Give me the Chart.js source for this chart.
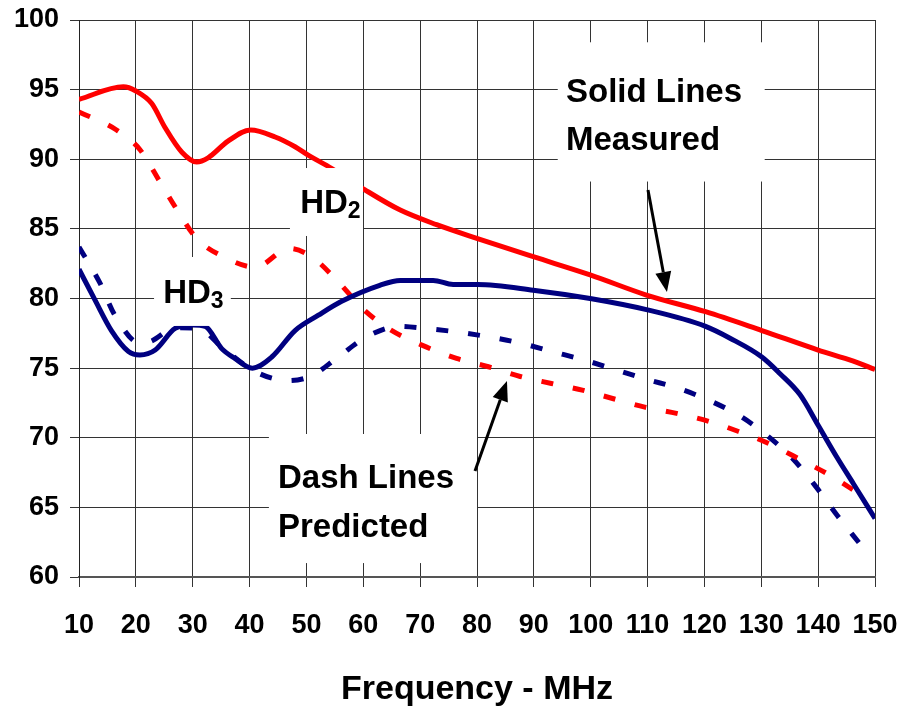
<!DOCTYPE html>
<html>
<head>
<meta charset="utf-8">
<script src="https://cdn.jsdelivr.net/npm/chart.js@4.4.1/dist/chart.umd.min.js"></script>
<style>
  html, body { margin: 0; padding: 0; background: #fff; }
  #wrap { width: 910px; height: 708px; }
</style>
</head>
<body>
<div id="wrap"><canvas id="chart" width="910" height="708"></canvas></div>
<script>
// --- Data (MHz / dB) ---
const hd2MeasFreq = [10, 17.8, 20, 22.8, 25.1, 28.1, 30.7, 32.7, 36.2, 40.2, 44.5, 48, 50.3, 54.4, 60.3, 66.5, 72.9, 80.1, 89.9, 99.9, 109.8, 120.2, 130.1, 140, 146.2, 150];
const hd2Meas     = [94.3, 95.2, 94.9, 94.0, 92.3, 90.5, 89.8, 90.1, 91.3, 92.1, 91.6, 90.9, 90.3, 89.35, 87.8, 86.35, 85.3, 84.3, 83.0, 81.7, 80.25, 79.05, 77.7, 76.3, 75.5, 74.9];

const hd3MeasFreq = [10, 12.8, 15.7, 18.7, 20.7, 23.4, 26.9, 30, 32.2, 35.1, 37.4, 40.5, 43.9, 48, 52.1, 56.2, 62.9, 66.5, 72.3, 75.8, 80.1, 89.9, 99.9, 109.8, 120.2, 124.5, 130.1, 133.3, 136.8, 140, 143.3, 146.2, 150];
const hd3Meas     = [82.1, 79.9, 77.7, 76.2, 75.95, 76.3, 77.85, 78.1, 78.0, 76.4, 75.7, 75.0, 75.8, 77.7, 78.8, 79.8, 80.95, 81.3, 81.3, 81.0, 81.0, 80.6, 80.0, 79.2, 78.0, 77.15, 75.8, 74.6, 73.1, 70.9, 68.6, 66.7, 64.2];

const hd2PredFreq = [10, 16.6, 20.7, 24.2, 27.5, 30.7, 35.4, 41, 47, 50.9, 55.6, 59.7, 64.4, 70.3, 76.4, 82, 87.6, 93.1, 98.7, 104, 109.5, 115.1, 121, 126, 131.5, 136.8, 142.1, 147.5];
const hd2Pred     = [93.4, 92.1, 90.7, 88.4, 86.2, 84.3, 83.0, 82.25, 83.6, 83.0, 81.2, 79.35, 77.85, 76.65, 75.7, 75.1, 74.4, 73.9, 73.4, 72.8, 72.2, 71.75, 71.15, 70.45, 69.55, 68.45, 67.3, 65.9];

const hd3PredFreq = [10, 13.7, 16.3, 20.7, 22.5, 27, 31, 35.4, 41, 46.8, 50.9, 55.6, 60.6, 66.2, 70.9, 76.4, 82, 87.6, 93.1, 98.7, 104.3, 109.8, 115.4, 121, 126.3, 130.9, 135.3, 139.4, 143.3, 147.3];
const hd3Pred     = [83.7, 81.1, 78.8, 76.8, 76.9, 77.9, 77.85, 76.4, 74.75, 74.1, 74.45, 75.8, 77.25, 78.0, 77.85, 77.6, 77.25, 76.8, 76.2, 75.6, 74.9, 74.2, 73.55, 72.65, 71.55, 70.2, 68.6, 66.6, 64.45, 62.4];

const xTicks = [10, 20, 30, 40, 50, 60, 70, 80, 90, 100, 110, 120, 130, 140, 150];
const yTicks = [60, 65, 70, 75, 80, 85, 90, 95, 100];

const RED = '#ff0000';
const NAVY = '#000080';
const FONT = '"Liberation Sans", Arial, Helvetica, sans-serif';

const toPoints = (xs, ys) => xs.map((x, i) => ({ x: x, y: ys[i] }));

// --- Text boxes and arrows, placed in data units ---
const notes = [
    { box: [94.2, 130.6, 98.4, 88.4], text: [['Solid Lines', 95.65, 94.13], ['Measured', 95.65, 90.66]] },
    { box: [47.1, 59.95, 89.37, 84.49], text: [['HD', 48.9, 86.14, '2']] },
    { box: [23.2, 36.7, 82.98, 78.03], text: [['HD', 24.8, 79.68, '3']] },
    { box: [43.4, 80.0, 70.27, 61.0], text: [['Dash Lines', 45.0, 66.39], ['Predicted', 45.0, 62.87]] }
];
const arrows = [
    [110.07, 87.79, 113.41, 80.47],
    [79.65, 67.61, 85.27, 74.08]
];

const notesPlugin = {
    id: 'notes',
    afterDatasetsDraw(chart) {
        const ctx = chart.ctx;
        const sx = chart.scales.x, sy = chart.scales.y;
        const px = v => sx.getPixelForValue(v);
        const py = v => sy.getPixelForValue(v);
        ctx.save();
        notes.forEach(n => {
            const [x0, x1, y0, y1] = n.box;
            ctx.fillStyle = '#fff';
            ctx.fillRect(px(x0), py(y0), px(x1) - px(x0), py(y1) - py(y0));
            n.text.forEach(t => {
                ctx.fillStyle = '#000';
                ctx.textBaseline = 'alphabetic';
                ctx.textAlign = 'left';
                ctx.font = 'bold 33px ' + FONT;
                const tx = px(t[1]), ty = py(t[2]);
                ctx.fillText(t[0], tx, ty);
                if (t[3]) {
                    const w = ctx.measureText(t[0]).width;
                    ctx.font = 'bold 23px ' + FONT;
                    ctx.fillText(t[3], tx + w, ty + 5);
                }
            });
        });
        // arrows
        ctx.strokeStyle = '#000';
        ctx.fillStyle = '#000';
        ctx.lineWidth = 3;
        arrows.forEach(a => {
            const x0 = px(a[0]), y0 = py(a[1]), x1 = px(a[2]), y1 = py(a[3]);
            const ang = Math.atan2(y1 - y0, x1 - x0);
            const head = 20, half = 8;
            const bx = x1 - head * Math.cos(ang), by = y1 - head * Math.sin(ang);
            ctx.beginPath();
            ctx.moveTo(x0, y0);
            ctx.lineTo(bx, by);
            ctx.stroke();
            ctx.beginPath();
            ctx.moveTo(x1, y1);
            ctx.lineTo(bx + half * Math.sin(ang), by - half * Math.cos(ang));
            ctx.lineTo(bx - half * Math.sin(ang), by + half * Math.cos(ang));
            ctx.closePath();
            ctx.fill();
        });
        ctx.restore();
    }
};

const lineStyle = {
    borderWidth: 5,
    pointRadius: 0,
    fill: false,
    cubicInterpolationMode: 'monotone',
    borderCapStyle: 'butt'
};

new Chart(document.getElementById('chart'), {
    type: 'line',
    data: {
        datasets: [
            Object.assign({ label: 'HD2 measured', data: toPoints(hd2MeasFreq, hd2Meas), borderColor: RED }, lineStyle),
            Object.assign({ label: 'HD3 measured', data: toPoints(hd3MeasFreq, hd3Meas), borderColor: NAVY }, lineStyle),
            Object.assign({ label: 'HD2 predicted', data: toPoints(hd2PredFreq, hd2Pred), borderColor: RED, borderDash: [12, 20] }, lineStyle),
            Object.assign({ label: 'HD3 predicted', data: toPoints(hd3PredFreq, hd3Pred), borderColor: NAVY, borderDash: [12, 20] }, lineStyle)
        ]
    },
    options: {
        responsive: false,
        animation: false,
        layout: { padding: { top: 20, right: 35, left: 0, bottom: 0 } },
        plugins: {
            legend: { display: false },
            tooltip: { enabled: false }
        },
        scales: {
            x: {
                type: 'linear',
                min: 10,
                max: 150,
                afterBuildTicks: s => { s.ticks = xTicks.map(v => ({ value: v })); },
                afterFit: s => { s.height = 131; s.paddingLeft = 0; s.paddingRight = 0; },
                grid: { color: '#333', lineWidth: 1, tickLength: 10 },
                border: { color: '#555', width: 2 },
                ticks: {
                    color: '#000',
                    padding: 22,
                    maxRotation: 0,
                    autoSkip: false,
                    font: { family: FONT, size: 27, weight: 'bold' }
                },
                title: {
                    display: true,
                    text: 'Frequency - MHz',
                    color: '#000',
                    padding: { top: 0, bottom: 1 },
                    font: { family: FONT, size: 34, weight: 'bold', lineHeight: 1 }
                }
            },
            y: {
                min: 60,
                max: 100,
                afterBuildTicks: s => { s.ticks = yTicks.map(v => ({ value: v })); },
                afterFit: s => { s.width = 79; s.paddingTop = 0; s.paddingBottom = 0; },
                grid: { color: '#333', lineWidth: 1, tickLength: 9 },
                border: { color: '#222', width: 1 },
                ticks: {
                    color: '#000',
                    padding: 11,
                    font: { family: FONT, size: 27, weight: 'bold' }
                }
            }
        }
    },
    plugins: [notesPlugin]
});
</script>
</body>
</html>
